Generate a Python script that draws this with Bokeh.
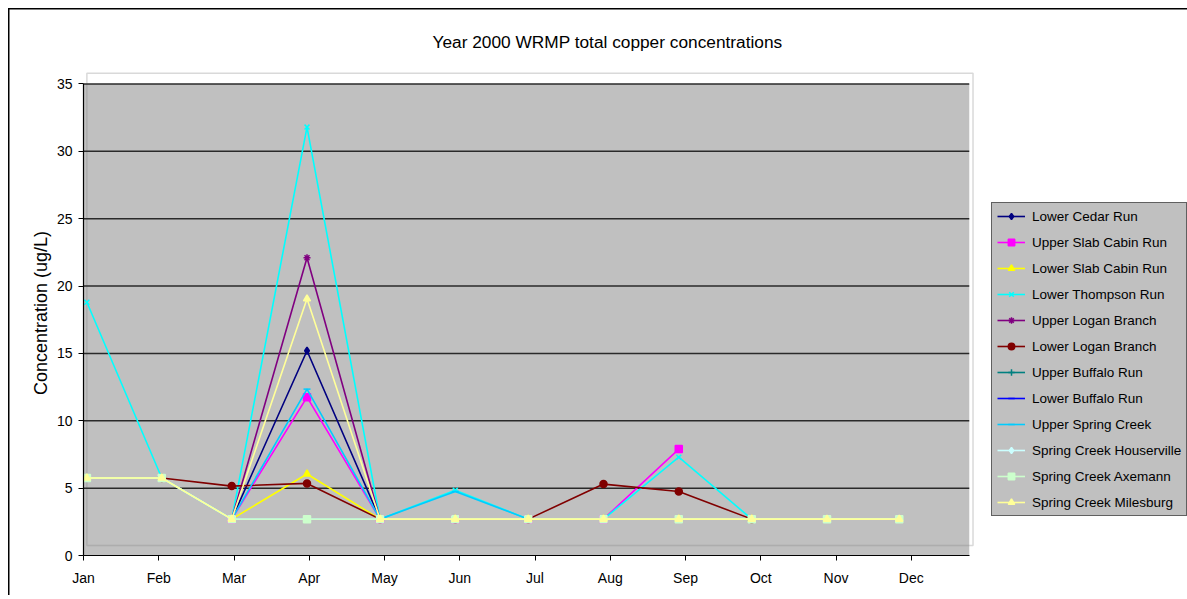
import math
from bokeh.plotting import figure
from bokeh.models import FixedTicker, BoxAnnotation, Legend, LegendItem, Range1d
from bokeh.embed import file_html
from bokeh.resources import INLINE

nan = float("nan")

months = ["Jan", "Feb", "Mar", "Apr", "May", "Jun", "Jul", "Aug", "Sep", "Oct", "Nov", "Dec"]
month_ticks = list(range(12))
# sampling positions (fractional month index of each monthly sample)
sample_pos = [0.045, 1.04, 1.97, 2.97, 3.94, 4.94, 5.91, 6.91, 7.91, 8.88, 9.88, 10.84]
y_ticks = [0, 5, 10, 15, 20, 25, 30, 35]

series_names = [
    "Lower Cedar Run", "Upper Slab Cabin Run", "Lower Slab Cabin Run", "Lower Thompson Run",
    "Upper Logan Branch", "Lower Logan Branch", "Upper Buffalo Run", "Lower Buffalo Run",
    "Upper Spring Creek", "Spring Creek Houserville", "Spring Creek Axemann", "Spring Creek Milesburg",
]

lower_cedar_run = [nan, nan, 2.7, 15.2, 2.7, 2.7, 2.7, 2.7, 2.7, 2.7, nan, nan]
upper_slab_cabin_run = [nan, nan, 2.7, 11.75, 2.7, 2.7, 2.7, 2.7, 7.9, nan, nan, nan]
lower_slab_cabin_run = [nan, nan, 2.7, 6.05, 2.7, 2.7, 2.7, 2.7, 2.7, 2.7, nan, nan]
lower_thompson_run = [18.8, 5.75, 2.7, 31.8, 2.7, 4.85, 2.7, 2.7, 7.3, 2.7, nan, nan]
upper_logan_branch = [nan, nan, 2.7, 22.1, 2.7, 2.7, 2.7, 2.7, 2.7, 2.7, nan, nan]
lower_logan_branch = [nan, 5.75, 5.15, 5.35, 2.7, 2.7, 2.7, 5.3, 4.75, 2.7, nan, nan]
upper_buffalo_run = [nan, nan, 2.7, 2.7, 2.7, 2.7, 2.7, 2.7, 2.7, 2.7, nan, nan]
lower_buffalo_run = [nan, nan, 2.7, 2.7, 2.7, 2.7, 2.7, 2.7, 2.7, 2.7, nan, nan]
upper_spring_creek = [nan, nan, 2.7, 12.35, 2.7, 4.75, 2.7, 2.7, 2.7, 2.7, nan, nan]
spring_creek_houserville = [5.75, 5.75, 2.7, 2.7, 2.7, 2.7, 2.7, 2.7, 2.7, 2.7, 2.7, 2.7]
spring_creek_axemann = [5.75, 5.75, 2.7, 2.7, 2.7, 2.7, 2.7, 2.7, 2.7, 2.7, 2.7, 2.7]
spring_creek_milesburg = [5.75, 5.75, 2.7, 19.05, 2.7, 2.7, 2.7, 2.7, 2.7, 2.7, 2.7, 2.7]

series_values = [
    lower_cedar_run, upper_slab_cabin_run, lower_slab_cabin_run, lower_thompson_run,
    upper_logan_branch, lower_logan_branch, upper_buffalo_run, lower_buffalo_run,
    upper_spring_creek, spring_creek_houserville, spring_creek_axemann, spring_creek_milesburg,
]

colors = ["#000080", "#FF00FF", "#FFFF00", "#00FFFF", "#800080", "#800000",
          "#008080", "#0000FF", "#00CCFF", "#CCFFFF", "#CCFFCC", "#FFFF99"]
markers = ["diamond", "square", "triangle", "x", "asterisk", "circle",
           "cross", "dash", "dash", "diamond", "square", "triangle"]

FONT = "Liberation Sans"

p = figure(width=1187, height=595, output_backend="svg", toolbar_location=None,
           x_range=Range1d(0, 14.67), y_range=Range1d(0, 36),
           min_border_left=83, min_border_right=0, min_border_top=70, min_border_bottom=40,
           title="Year 2000 WRMP total copper concentrations")
p.background_fill_color = "white"
p.border_fill_color = None
p.outline_line_color = None
p.xgrid.visible = False
p.ygrid.visible = False
p.styles = {"box-shadow": "inset 8px 8px 0 0 #ffffff, inset 9.5px 9.5px 0 0 #000000"}

p.title.text_font = FONT
p.title.text_font_size = "17.3px"
p.title.text_font_style = "normal"
p.title.text_color = "#000000"
p.title.align = "left"
p.title.offset = 349
p.title.standoff = 38

# plot wall
p.add_layout(BoxAnnotation(left=0, right=11.77, bottom=0, top=35, fill_color="#C0C0C0",
                           fill_alpha=1, line_color=None, level="underlay"))
p.add_layout(BoxAnnotation(left=0.045, right=11.82, bottom=0.74, top=35.8, fill_alpha=0,
                           line_color="#808080", line_width=1.5, level="underlay"))
# gridlines
p.segment(x0=0, x1=11.77, y0=y_ticks[1:], y1=y_ticks[1:], line_color="#2a2a2a",
          line_width=1.5)

items = []
for name, vals, c, m in zip(series_names, series_values, colors, markers):
    rl = p.line(sample_pos, vals, line_color=c, line_width=1.6)
    rm = p.scatter(sample_pos, vals, marker=m, size=7, fill_color=c, line_color=c, line_width=1.5)
    items.append(LegendItem(label=name, renderers=[rl, rm]))

legend = Legend(items=items, location=(908, 39), padding=5, spacing=10, margin=0,
                glyph_width=28, glyph_height=16, label_height=16, label_standoff=7,
                background_fill_color="#C0C0C0", background_fill_alpha=1,
                border_line_color="#000000", border_line_width=1,
                label_text_font=FONT, label_text_font_size="13.5px", label_text_color="#000000")
p.add_layout(legend)

# axes
p.xaxis.ticker = FixedTicker(ticks=month_ticks)
p.xaxis.major_label_overrides = {i: mth for i, mth in zip(month_ticks, months)}
p.xaxis.bounds = (0, 11.77)
p.yaxis.ticker = FixedTicker(ticks=y_ticks)
p.yaxis.bounds = (0, 35)
for ax in (p.xaxis[0], p.yaxis[0]):
    ax.axis_line_color = "#000000"
    ax.axis_line_width = 1.2
    ax.major_tick_line_color = "#000000"
    ax.major_tick_out = 5
    ax.major_tick_in = 0
    ax.minor_tick_line_color = None
    ax.major_label_text_font = FONT
    ax.major_label_text_font_size = "14px"
    ax.major_label_text_color = "#000000"
p.xaxis.major_label_standoff = 9
p.yaxis.major_label_standoff = 6
p.yaxis.axis_label = "Concentration (ug/L)"
p.yaxis.axis_label_text_font = FONT
p.yaxis.axis_label_text_font_size = "18px"
p.yaxis.axis_label_text_font_style = "normal"
p.yaxis.axis_label_text_color = "#000000"
p.yaxis.axis_label_standoff = 3

open("out.html", "w").write(file_html(p, INLINE))
